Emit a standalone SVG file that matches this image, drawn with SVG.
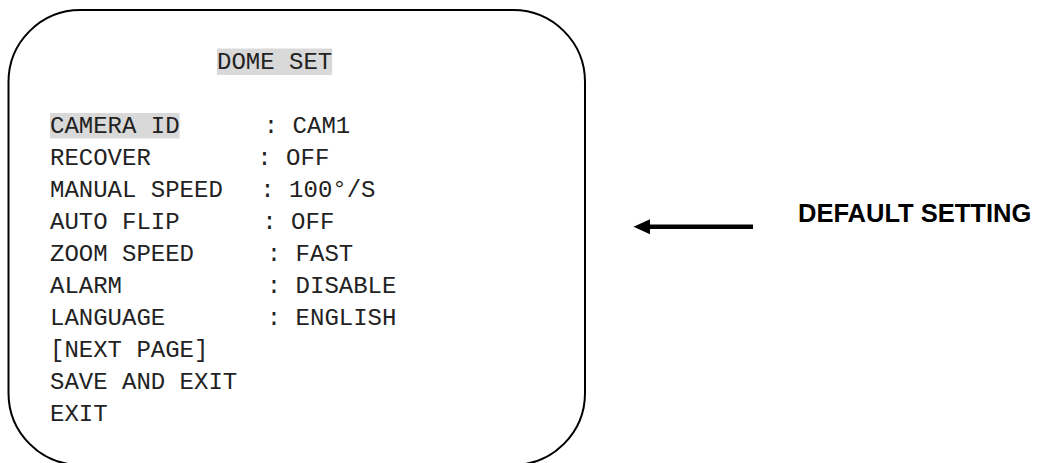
<svg xmlns="http://www.w3.org/2000/svg" width="1043" height="463" viewBox="0 0 1043 463">
  <style>
    .mono { font-family: "Courier New", "Liberation Mono", monospace; font-size: 24px; fill: #222; }
    .hl { fill: #d9d9d9; }
    .label { font-family: "Liberation Sans", Arial, sans-serif; font-size: 25.5px; font-weight: bold; fill: #000; }
  </style>
  <defs>
    <marker id="arrowhead" markerUnits="userSpaceOnUse" markerWidth="17" markerHeight="16" refX="1" refY="8" orient="auto-start-reverse">
      <polygon points="0,0.5 16.5,8 0,15.5" fill="#000"/>
    </marker>
  </defs>
  <rect width="1043" height="463" fill="#fff"/>

  <g id="menu-screen">
    <rect x="8.5" y="10" width="576.5" height="455" rx="72" ry="72" fill="none" stroke="#000" stroke-width="2"/>
    <rect class="hl" x="217" y="48.5" width="115.2" height="26.5"/>
    <text class="mono" x="217" y="68.5">DOME SET</text>

    <rect class="hl" x="50" y="113" width="129.6" height="25.5"/>
    <text class="mono" x="50" y="132.5">CAMERA ID</text>
    <text class="mono" x="263.8" y="132.5">: CAM1</text>

    <text class="mono" x="50" y="164.5">RECOVER</text>
    <text class="mono" x="257.3" y="164.5">: OFF</text>

    <text class="mono" x="50" y="196.5">MANUAL SPEED</text>
    <text class="mono" x="260.3" y="196.5">: 100°/S</text>

    <text class="mono" x="50" y="228.5">AUTO FLIP</text>
    <text class="mono" x="262.3" y="228.5">: OFF</text>

    <text class="mono" x="50" y="260.5">ZOOM SPEED</text>
    <text class="mono" x="266.8" y="260.5">: FAST</text>

    <text class="mono" x="50" y="292.5">ALARM</text>
    <text class="mono" x="266.8" y="292.5">: DISABLE</text>

    <text class="mono" x="50" y="324.5">LANGUAGE</text>
    <text class="mono" x="266.8" y="324.5">: ENGLISH</text>

    <text class="mono" x="50" y="356.5">[NEXT PAGE]</text>
    <text class="mono" x="50" y="388.5">SAVE AND EXIT</text>
    <text class="mono" x="50" y="420.5">EXIT</text>
  </g>

  <g id="connectors">
    <line x1="753" y1="226.7" x2="649" y2="226.7" stroke="#000" stroke-width="4.5" marker-end="url(#arrowhead)"/>
  </g>

  <g id="default-setting">
    <text class="label" x="798" y="222">DEFAULT SETTING</text>
  </g>
</svg>
